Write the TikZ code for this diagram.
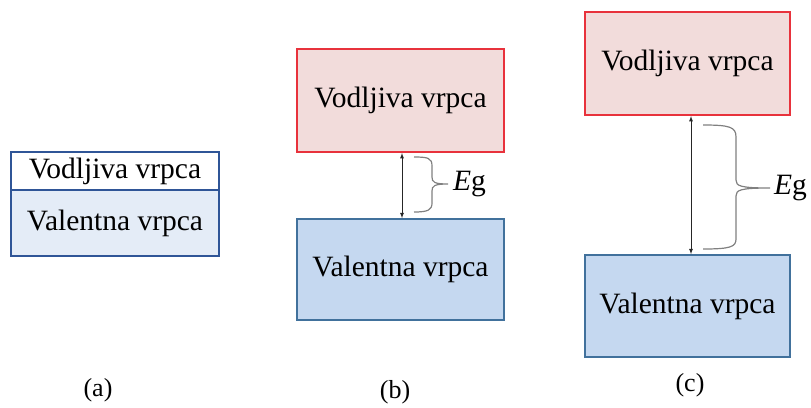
\documentclass[tikz,border=0pt]{standalone}
\usepackage{fontspec}
\setmainfont{Liberation Serif}
\usetikzlibrary{positioning,arrows}
\definecolor{cbline}{HTML}{E8323C}
\definecolor{cbfill}{HTML}{F2DCDB}
\definecolor{vbline}{HTML}{41719C}
\definecolor{vbfill}{HTML}{C5D8F0}
\definecolor{vafill}{HTML}{E4ECF7}
\definecolor{valine}{HTML}{2F5597}
\definecolor{brcgray}{HTML}{808080}
\tikzstyle{cb}=[draw=cbline, fill=cbfill, line width=2.2pt, minimum width=207pt, minimum height=103pt, inner sep=0pt]
\tikzstyle{vb}=[draw=vbline, fill=vbfill, line width=1.8pt, minimum width=207pt, minimum height=101pt, inner sep=0pt]
\tikzstyle{ab}=[draw=valine, line width=1.8pt, minimum width=208pt, inner sep=0pt]
\tikzstyle{gap}=[<->, line width=0.8pt, black!85]
\tikzstyle{brc}=[brcgray, line width=1.2pt]
\tikzstyle{lbl}=[font=\fontsize{26pt}{28pt}\selectfont]

\begin{document}
\begin{tikzpicture}[x=1pt,y=-1pt,>=latex,font=\fontsize{29.5pt}{32pt}\selectfont]
\useasboundingbox (0,0) rectangle (811,407);

% (a)
\node[ab, fill=white, minimum height=38pt] at (115,171) (ca) {Vodljiva vrpca};
\node[ab, fill=vafill, minimum height=66pt, below of = ca, node distance = 52pt] (va) {Valentna vrpca};
\node[lbl] at (98,390) (la) {(a)};

% (b)
\node[cb] at (400.5,100.5) (cbb) {Vodljiva vrpca};
\node[vb, below of = cbb, node distance = 169pt] (vbb) {Valentna vrpca};
\draw[gap] ([xshift=1.5pt]cbb.south) -- ([xshift=1.5pt]vbb.north);
\draw[brc] (414,157) .. controls (428,157) and (432,158) .. (432,166) -- (432,177)
  .. controls (432,182) and (434,184) .. (448,184)
  .. controls (434,184) and (432,186) .. (432,191) -- (432,203)
  .. controls (432,210) and (428,212) .. (414,212);
\node[anchor=west, inner sep=0pt] at (453,184) (egb) {\textit{E}g};
\node[lbl] at (395,392) (lb) {(b)};

% (c)
\node[cb, minimum width=205pt] at (687.5,63.5) (cbc) {Vodljiva vrpca};
\node[vb, minimum width=205pt, minimum height=102pt, below of = cbc, node distance = 242.5pt] (vbc) {Valentna vrpca};
\draw[gap] ([xshift=3.5pt]cbc.south) -- ([xshift=3.5pt]vbc.north);
\draw[brc] (703,125) .. controls (730,125) and (736,127) .. (736,137) -- (736,180)
  .. controls (736,186) and (740,188) .. (770,188)
  .. controls (740,188) and (736,190) .. (736,196) -- (736,239)
  .. controls (736,247) and (730,249) .. (703,249);
\node[anchor=west, inner sep=0pt] at (774,188) (egc) {\textit{E}g};
\node[lbl] at (690,385) (lc) {(c)};
\end{tikzpicture}
\end{document}
